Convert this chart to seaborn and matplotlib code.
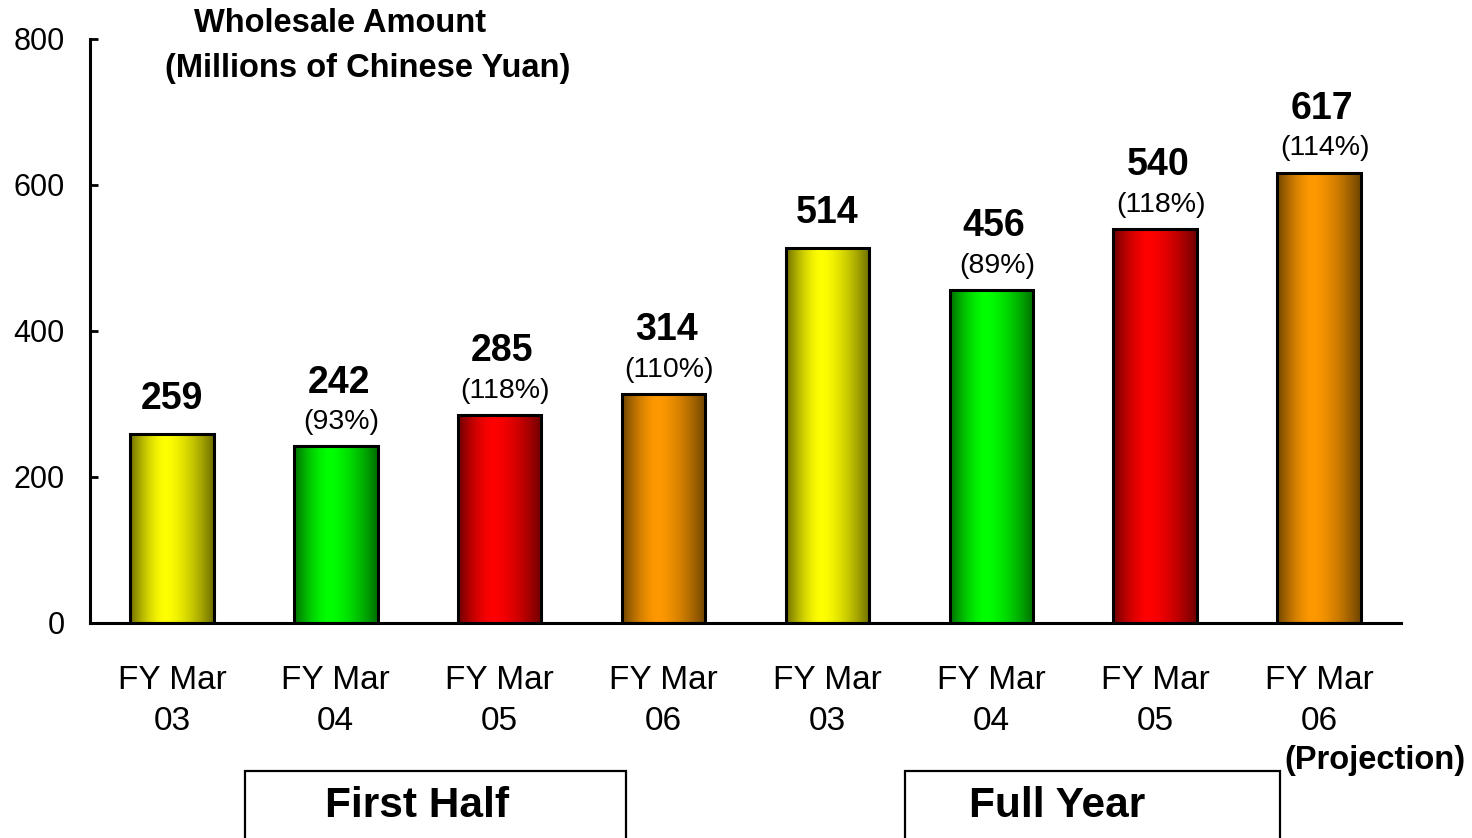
import numpy as np
import pandas as pd
import matplotlib
matplotlib.use("Agg")
import matplotlib.pyplot as plt
from matplotlib.patches import Rectangle
from matplotlib.colors import to_rgb
import seaborn as sns

# Data
periods = ["H1 FY03", "H1 FY04", "H1 FY05", "H1 FY06",
           "FY03", "FY04", "FY05", "FY06"]
tick_labels = ["FY Mar\n03", "FY Mar\n04", "FY Mar\n05", "FY Mar\n06",
               "FY Mar\n03", "FY Mar\n04", "FY Mar\n05", "FY Mar\n06"]
amounts = [259, 242, 285, 314, 514, 456, 540, 617]
growth = [None, "(93%)", "(118%)", "(110%)", None, "(89%)", "(118%)", "(114%)"]

bright = ["#FFFF00", "#00FF00", "#FF0000", "#FF9900"] * 2
dark = ["#6E6E00", "#006E00", "#6E0000", "#6E4400"] * 2

df = pd.DataFrame({"period": periods, "amount": amounts})

sns.set_style("white")
plt.rcParams["font.family"] = ["Liberation Sans", "DejaVu Sans"]
plt.rcParams["text.color"] = "black"
plt.rcParams["xtick.color"] = "black"
plt.rcParams["ytick.color"] = "black"

fig = plt.figure(figsize=(14.72, 8.38), dpi=100)
ax = fig.add_axes([90 / 1472, 1 - 623 / 838, 1311 / 1472, 584 / 838])

sns.barplot(data=df, x="period", y="amount", hue="period", palette=bright,
            legend=False, width=0.51, edgecolor="black", linewidth=2.2,
            saturation=1, ax=ax)

# horizontal "cylinder" gradient inside each bar
t = np.linspace(0, 1, 200)
shade = np.where(t < 0.42, 1 - ((0.42 - t) / 0.42) ** 1.6, 1 - ((t - 0.42) / 0.58) ** 1.6)
for patch, c_hi, c_lo in zip(ax.patches, bright, dark):
    hi, lo = np.array(to_rgb(c_hi)), np.array(to_rgb(c_lo))
    grad = lo[None, :] + (hi - lo)[None, :] * shade[:, None]
    x0, y0 = patch.get_x(), patch.get_y()
    w, h = patch.get_width(), patch.get_height()
    im = ax.imshow(grad[None, :, :], extent=[x0, x0 + w, y0, y0 + h],
                   aspect="auto", zorder=patch.get_zorder() - 0.05,
                   interpolation="bilinear")
    im.set_clip_path(patch)
    patch.set_facecolor("none")

ax.set_xlim(-0.5, len(periods) - 0.5)
ax.set_ylim(0, 800)
ax.set_yticks([0, 200, 400, 600, 800])

# value labels
for i, (v, g) in enumerate(zip(amounts, growth)):
    if g is None:
        ax.annotate(str(v), (i, v), xytext=(0, 12), textcoords="offset points",
                    ha="center", va="bottom", fontsize=27, fontweight="bold")
    else:
        ax.annotate(g, (i, v), xytext=(4, 8), textcoords="offset points",
                    ha="center", va="bottom", fontsize=20.5)
        ax.annotate(str(v), (i, v), xytext=(2, 33), textcoords="offset points",
                    ha="center", va="bottom", fontsize=27, fontweight="bold")

# axes styling
sns.despine(ax=ax)
for side in ["left", "bottom"]:
    ax.spines[side].set_linewidth(2.2)
    ax.spines[side].set_color("black")
ax.set_xlabel("")
ax.set_ylabel("")
ax.set_xticks(range(len(periods)))
ax.set_xticklabels(tick_labels, fontsize=24, linespacing=1.42)
ax.set_xticks(np.arange(-0.5, len(periods)), minor=True)
ax.tick_params(axis="x", which="major", length=0, pad=30.5)
ax.tick_params(axis="x", which="minor", direction="in", length=7, width=1.5,
               color="black")
ax.tick_params(axis="y", direction="in", length=6, width=2, color="black",
               labelsize=22, pad=18, left=True)

# axis title
fig.text(340 / 1472, 1 - 24 / 838, "Wholesale Amount", ha="center", va="center",
         fontsize=23.5, fontweight="bold")
fig.text(368 / 1472, 1 - 69 / 838, "(Millions of Chinese Yuan)", ha="center",
         va="center", fontsize=23.5, fontweight="bold")

# group boxes under the axis
for x0, x1, label, cx in [(245, 626, "First Half", 417),
                          (905, 1280, "Full Year", 1057)]:
    fig.add_artist(Rectangle((x0 / 1472, -0.05), (x1 - x0) / 1472, 0.05 + 67 / 838,
                             transform=fig.transFigure, fill=False,
                             edgecolor="black", linewidth=1.6, clip_on=False))
    fig.text(cx / 1472, 1 - 806 / 838, label, ha="center", va="center",
             fontsize=30.5, fontweight="bold")

fig.text(1375 / 1472, 1 - 760 / 838, "(Projection)", ha="center", va="center",
         fontsize=23.5, fontweight="bold")

fig.savefig("out.png", dpi=100, facecolor="white")
